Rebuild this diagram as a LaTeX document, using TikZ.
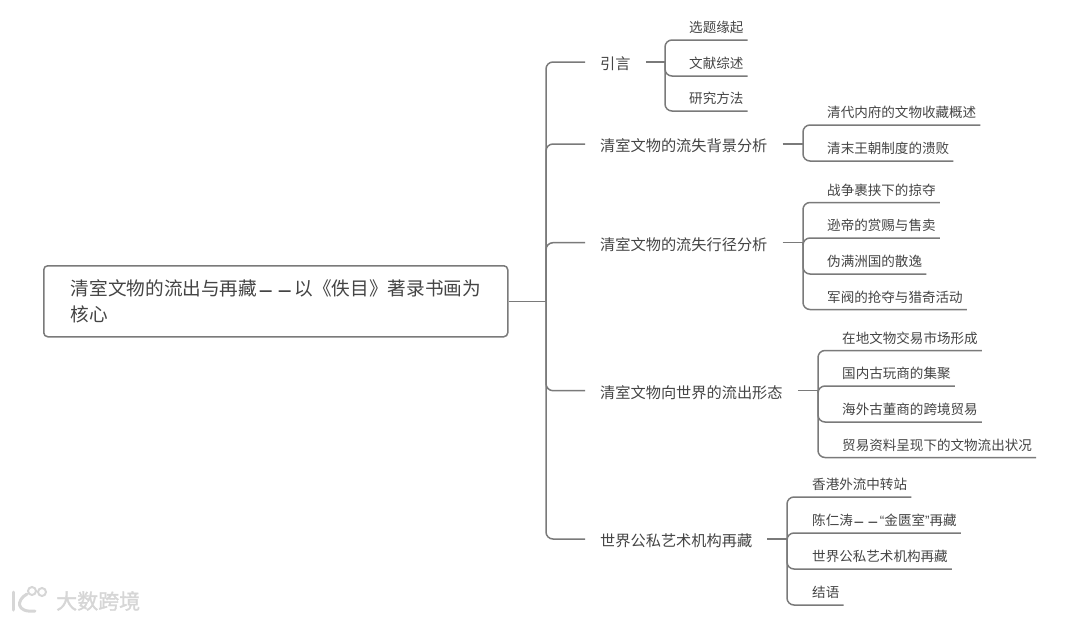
\documentclass[tikz,border=0pt]{standalone}
\usepackage{fontspec}
\setmainfont{Noto Sans CJK SC}
\newfontfamily\latinq{Liberation Sans}
\newfontfamily\wmfont[FakeBold=1.5]{Noto Sans CJK SC}
\definecolor{txt}{HTML}{444444}
\definecolor{lin}{HTML}{7A7A7A}
\definecolor{wm}{HTML}{D6D6D6}
\newcommand{\onedash}{\makebox[1em]{\raisebox{-.19em}{\scalebox{.8}[1.5]{—}}}}
\newcommand{\dd}{\onedash\onedash}
\tikzset{
  x=1pt,y=-1pt,
  conn/.style={draw=lin,line width=1.5pt,rounded corners=7pt},
  rootbox/.style={draw=lin,line width=1.5pt,rounded corners=4pt,anchor=north west,
     minimum width=464pt,minimum height=71pt,text width=410pt,inner xsep=27pt,inner ysep=0pt,
     align=left,font=\fontsize{18.65pt}{26pt}\selectfont,text=txt,text height=17pt},
  branch/.style={anchor=west,inner xsep=15pt,inner ysep=0pt,text height=16pt,text depth=1.4pt,
     font=\fontsize{15.2pt}{18pt}\selectfont,text=txt},
  leaf/.style={anchor=south west,inner xsep=4pt,inner ysep=5pt,text height=12pt,text depth=2pt,
     font=\fontsize{13.55pt}{16pt}\selectfont,text=txt},
}
\begin{document}
\begin{tikzpicture}
\useasboundingbox (0,0) rectangle (1079,621);
\node[rootbox] (root) at (43,265) {清室文物的流出与再藏\dd 以《佚目》著录书画为\\核心};
\coordinate (tr0) at (546,0);
\coordinate (tr) at (root.east -| tr0);
\node[branch] (b1) at (585,62) {引言};
\node[branch] (b2) at (585,144) {清室文物的流失背景分析};
\node[branch] (b3) at (585,242.7) {清室文物的流失行径分析};
\node[branch] (b4) at (585,390.7) {清室文物向世界的流出形态};
\node[branch] (b5) at (585,539) {世界公私艺术机构再藏};
\draw[conn] (root.east) -- (tr);
\foreach \b in {b1,b2,b3,b4,b5}{\draw[conn] (tr) |- (\b.west);}
% group 1
\coordinate (s1) at (665,62);
\draw[conn] (b1.east) -- (s1);
\node[leaf] (a1) at (685,40) {选题缘起};
\node[leaf] (a2) at (685,76) {文献综述};
\node[leaf] (a3) at (685,111) {研究方法};
\foreach \n in {a1,a2,a3}{\draw[conn] (s1) |- (\n.south east);}
% group 2
\coordinate (s2) at (803,144);
\draw[conn] (b2.east) -- (s2);
\node[leaf] (c1) at (823,125) {清代内府的文物收藏概述};
\node[leaf] (c2) at (823,161) {清末王朝制度的溃败};
\foreach \n in {c1,c2}{\draw[conn] (s2) |- (\n.south east);}
% group 3
\coordinate (s3) at (803,242.7);
\draw[conn] (b3.east) -- (s3);
\node[leaf] (d1) at (823,202.5) {战争裹挟下的掠夺};
\node[leaf] (d2) at (823,238) {逊帝的赏赐与售卖};
\node[leaf] (d3) at (823,274) {伪满洲国的散逸};
\node[leaf] (d4) at (823,309.5) {军阀的抢夺与猎奇活动};
\foreach \n in {d1,d2,d3,d4}{\draw[conn] (s3) |- (\n.south east);}
% group 4
\coordinate (s4) at (818,390.7);
\draw[conn] (b4.east) -- (s4);
\node[leaf] (e1) at (838,350.5) {在地文物交易市场形成};
\node[leaf] (e2) at (838,386) {国内古玩商的集聚};
\node[leaf] (e3) at (838,422) {海外古董商的跨境贸易};
\node[leaf] (e4) at (838,457.5) {贸易资料呈现下的文物流出状况};
\foreach \n in {e1,e2,e3,e4}{\draw[conn] (s4) |- (\n.south east);}
% group 5
\coordinate (s5) at (787,539);
\draw[conn] (b5.east) -- (s5);
\node[leaf] (f1) at (808,497) {香港外流中转站};
\node[leaf] (f2) at (808,533) {陈仁涛\dd{\latinq “}金匮室{\latinq ”}再藏};
\node[leaf] (f3) at (808,569) {世界公私艺术机构再藏};
\node[leaf] (f4) at (808,605) {结语};
\foreach \n in {f1,f2,f3,f4}{\draw[conn] (s5) |- (\n.south east);}
% watermark
\node[anchor=west,inner sep=0pt,text=wm,font=\fontsize{21pt}{23pt}\wmfont] (wmk) at (56,601) {大数跨境};
\draw[wm,line width=3pt,line cap=round] (13,592) -- (13,610);
\draw[wm,line width=3pt,line cap=round] (27,594) .. controls (16,600) and (16,613) .. (35,611);
\draw[wm,line width=2pt] (32,591) circle (4pt) (42,592) circle (4pt);
\end{tikzpicture}
\end{document}
